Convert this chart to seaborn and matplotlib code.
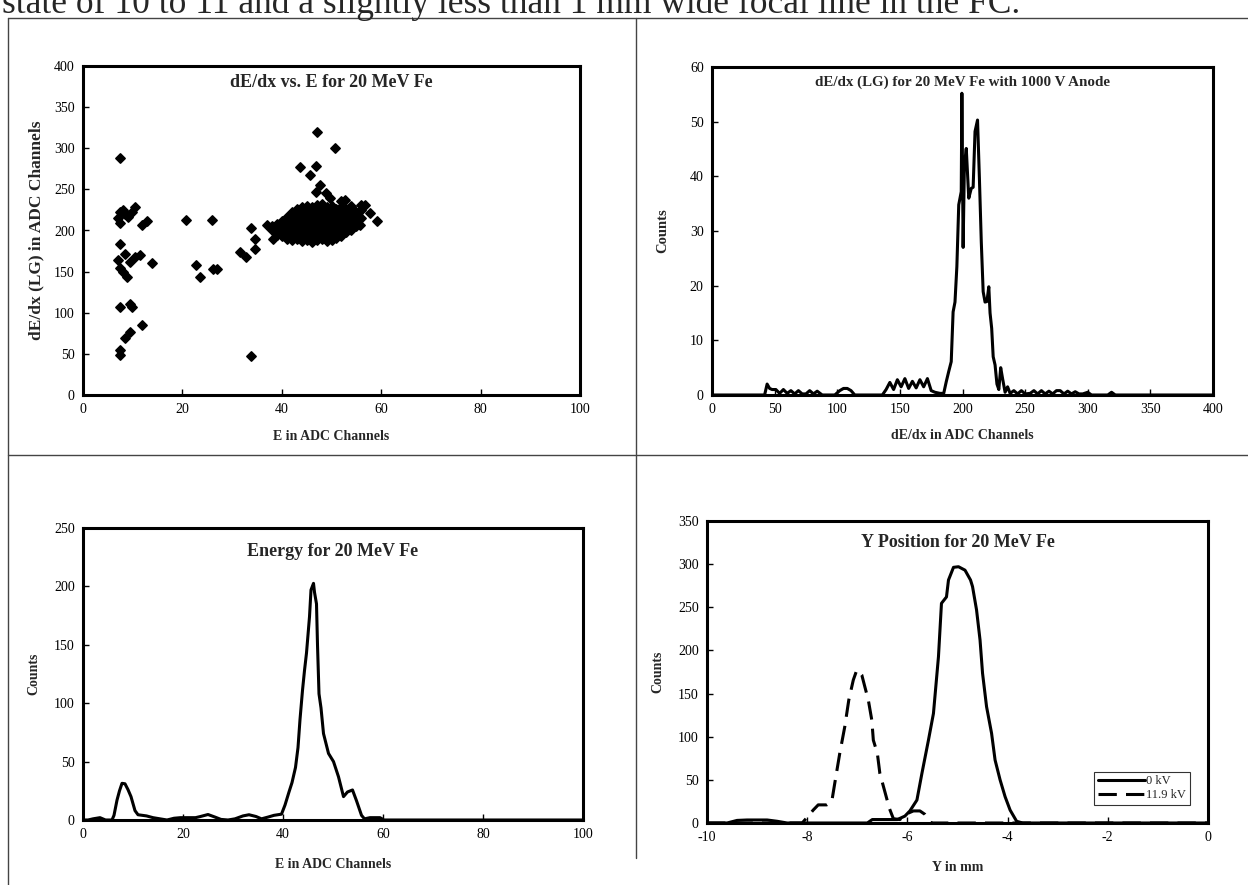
import matplotlib
matplotlib.use("Agg")
import matplotlib.pyplot as plt
from matplotlib.lines import Line2D
import seaborn as sns

# ---- dE/dx vs E scatter (ADC channels) ----
scatter_E = [7.4, 47.0, 50.8, 43.7, 45.7, 46.9, 47.6, 46.9, 48.9, 49.7, 52.7,
             56.7, 57.7, 59.1, 55.7, 54.5, 54.8, 52.6, 52.8,
             37.0, 38.6, 38.3, 39.6, 33.9, 34.6, 34.7, 31.6, 32.7, 33.9,
             20.7, 25.9, 22.7, 23.5, 26.1, 26.9,
             7.4, 8.1, 10.5, 7.4, 9.1, 11.8, 12.8, 7.0, 8.4, 9.8,
             7.4, 8.5, 7.1, 9.5, 11.5, 10.5, 7.4, 8.8, 13.8, 8.1,
             7.4, 9.5, 9.8, 11.8, 9.5, 8.5, 7.4, 7.4]
scatter_dEdx = [288, 320, 300, 277, 267, 278, 255, 247, 245, 239, 237,
                231, 221, 211, 207, 225, 212, 205, 200,
                207, 200, 190, 197, 203, 190, 177, 174, 168, 47,
                213, 213, 158, 144, 153, 153,
                223, 225, 229, 209, 217, 207, 211, 215, 220, 222,
                184, 172, 164, 162, 170, 168, 154, 144, 160, 150,
                107, 111, 107, 85, 77, 69, 55, 49]

# dense main group around E = 38-57
cluster_E = [38, 38, 39, 39, 39, 40, 40, 40, 40,
             41, 41, 41, 41, 41, 42, 42, 42, 42, 42, 42,
             43, 43, 43, 43, 43, 43, 44, 44, 44, 44, 44, 44, 44,
             45, 45, 45, 45, 45, 45, 45, 46, 46, 46, 46, 46, 46, 46,
             47, 47, 47, 47, 47, 47, 47, 48, 48, 48, 48, 48, 48, 48,
             49, 49, 49, 49, 49, 49, 49, 50, 50, 50, 50, 50, 50, 50,
             51, 51, 51, 51, 51, 51, 52, 52, 52, 52, 52, 52, 52,
             53, 53, 53, 53, 53, 54, 54, 54, 54, 54, 55, 55, 55, 56, 56, 56]
cluster_dEdx = [200, 205, 195, 203, 208, 193, 200, 207, 212,
                190, 197, 204, 210, 216, 188, 195, 202, 208, 215, 222,
                190, 197, 204, 211, 218, 226, 187, 194, 201, 208, 215, 222, 229,
                189, 196, 203, 210, 217, 224, 230, 186, 193, 200, 207, 214, 221, 228,
                188, 195, 202, 209, 216, 223, 231, 190, 197, 204, 211, 218, 225, 232,
                187, 194, 201, 208, 215, 222, 229, 189, 196, 203, 210, 217, 224, 230,
                191, 198, 205, 212, 219, 226, 193, 200, 207, 214, 221, 228, 236,
                198, 205, 212, 219, 226, 200, 207, 214, 222, 230, 205, 212, 220, 215, 225, 231]

# ---- dE/dx (LG) spectrum ----
dedx_channel = [0, 42, 44, 46, 48, 51, 54, 57, 60, 63, 66, 69, 72, 75, 78, 81, 84, 88,
                98, 102, 105, 108, 111, 114, 122, 136, 139, 142, 145, 148, 151, 154,
                157, 160, 163, 166, 169, 172, 175, 178, 182, 185, 187, 189, 191, 192.5,
                194, 195.5, 197, 199, 199.5, 200.5, 201.5, 203, 205, 207, 208.5, 210,
                212, 213.5, 215, 216.5, 218, 219.5, 221, 222, 223.3, 224.5, 226, 227.5,
                229, 230.5, 232, 234, 236, 238, 241, 244, 247, 250, 254, 257, 260, 263,
                266, 269, 272, 275, 278, 281, 284, 287, 290, 293, 296, 300, 303, 312,
                316, 319, 322, 400]
dedx_counts = [0, 0, 2, 1.2, 1, 1, 0.3, 1, 0.3, 0.8, 0.2, 0.8, 0.2, 0.2, 0.8, 0.2, 0.7, 0,
               0, 0.8, 1.2, 1.2, 0.8, 0, 0, 0, 1, 2.3, 1, 2.8, 1.5, 3,
               1.2, 2.5, 1.3, 2.8, 1.5, 3, 0.8, 0.5, 0.3, 0.3, 2.4, 4.3, 6.1, 15.2,
               17, 23.5, 34.8, 37.2, 55.2, 27, 42, 45.1, 36, 37.8, 38, 48.2,
               50.3, 39.6, 28, 18.9, 17, 17.1, 19.8, 15, 12.2, 7, 5.5, 2,
               1, 5, 3, 0.5, 1.5, 0.3, 0.8, 0.2, 0.8, 0.2, 0.3, 0.8, 0.2, 0.8,
               0.2, 0.7, 0.2, 0.8, 0.8, 0.2, 0.7, 0.2, 0.6, 0.2, 0.2, 0.5, 0, 0,
               0, 0.5, 0, 0]

# ---- Energy spectrum ----
energy_channel = [0, 1, 2, 3.4, 4.5, 5.8, 6.2, 6.8, 7.3, 7.8, 8.4, 9.0, 9.6, 10.4, 11.0,
                  12.7, 14, 15.4, 16.8, 18.2, 19.5, 21, 22.5, 23.5, 25, 26.4, 27.6, 29,
                  30.4, 32, 33.2, 34.6, 35.7, 37, 38.2, 39.7, 40.4, 41.2, 41.8, 42.5,
                  43.0, 43.4, 43.9, 44.3, 44.7, 45.3, 45.6, 46.1, 46.3, 46.7, 46.9, 47.2,
                  47.6, 48.1, 49.1, 50.1, 51.1, 52.1, 52.9, 53.9, 54.7, 55.7, 56.3, 57.4,
                  59.4, 60.2, 100]
energy_counts = [0, 0, 1, 2, 0, 0, 4, 17, 25, 31.4, 31, 26, 20, 8, 4.5,
                 3.5, 2, 1, 0, 1.5, 2, 2, 2, 3, 4.7, 2.5, 0.5, 0,
                 1, 3.5, 4.5, 3, 1, 2.5, 4, 5, 12.8, 24, 32, 45,
                 62, 86, 111, 128, 143, 174, 197, 202.6, 195, 185, 150, 108,
                 96, 74, 57, 50, 37, 20, 24, 25.7, 16.5, 4, 1, 2,
                 2, 0, 0]

# ---- Y position profiles ----
ypos_0kv = [-10, -9.6, -9.4, -9.2, -8.8, -8.6, -8.4, -6.8, -6.7, -6.2, -6.05, -5.95,
            -5.81, -5.71, -5.58, -5.48, -5.38, -5.32, -5.22, -5.18, -5.08, -4.98, -4.85,
            -4.74, -4.7, -4.62, -4.55, -4.5, -4.42, -4.32, -4.25, -4.15, -4.05, -3.95,
            -3.82, -3.7, 0]
counts_0kv = [0, 0, 3, 3.5, 3.5, 2, 0, 0, 4, 4, 8, 14,
              26.6, 57.6, 96, 127, 192.7, 254.6, 262, 281.6, 296.3, 297, 293,
              281.6, 274, 247, 212, 173.5, 134.8, 104, 73, 50, 30.5, 15,
              2, 0, 0]
ypos_119kv = [-10, -8.1, -7.98, -7.88, -7.78, -7.61, -7.51, -7.45, -7.35, -7.25, -7.17,
              -7.08, -7.01, -6.96, -6.91, -6.85, -6.78, -6.71, -6.68, -6.6, -6.55, -6.45,
              -6.36, -6.28, -6.15, -6.0, -5.88, -5.75, -5.65, -5.52, 0]
counts_119kv = [0, 0, 8, 15, 21, 21, 24.7, 46, 80.8, 111.6, 142.5,
                165.7, 177.3, 175, 171.5, 158, 142.5, 119, 96, 80.8, 57.6, 36.3,
                17, 5, 4, 11, 14, 14, 10, 0, 0]

header = "state of 10 to 11 and a slightly less than 1 mm wide focal line in the FC."

sns.set_theme(style="white")
plt.rcParams["font.family"] = ["Liberation Serif", "DejaVu Serif"]
plt.rcParams["axes.edgecolor"] = "black"

W, H = 1248, 885
fig = plt.figure(figsize=(W / 100, H / 100), dpi=100)
fig.patch.set_facecolor("white")


def px_axes(x0, y0, x1, y1):
    return fig.add_axes([x0 / W, 1 - y1 / H, (x1 - x0) / W, (y1 - y0) / H])


def style(ax, xlim, xstep, ylim, ystep, title, title_size, xlabel, ylabel,
          title_y, ylab_x, xlab_y, ylab_size=10):
    ax.set_xlim(*xlim)
    ax.set_ylim(*ylim)
    xt = []
    v = xlim[0]
    while v <= xlim[1] + 1e-9:
        xt.append(v)
        v += xstep
    yt = []
    v = ylim[0]
    while v <= ylim[1] + 1e-9:
        yt.append(v)
        v += ystep
    ax.set_xticks(xt)
    ax.set_yticks(yt)
    ax.set_xticklabels([f"{t:g}" for t in xt])
    ax.set_yticklabels([f"{t:g}" for t in yt])
    ax.tick_params(direction="in", length=4, width=1, colors="black",
                   labelsize=10, pad=6, bottom=True, left=True)
    for s in ax.spines.values():
        s.set_visible(True)
        s.set_linewidth(2.2)
        s.set_color("black")
    ax.set_facecolor("white")
    ax.grid(False)
    ax.text(0.5, title_y, title, transform=ax.transAxes, ha="center", va="center",
            fontsize=title_size, fontweight="bold")
    ax.set_xlabel(xlabel, fontsize=10, fontweight="bold")
    ax.set_ylabel(ylabel, fontsize=ylab_size, fontweight="bold")
    ax.yaxis.set_label_coords(ylab_x, 0.5)
    ax.xaxis.set_label_coords(0.5, xlab_y)


# top-left: scatter
ax1 = px_axes(83, 66, 580, 395)
sns.scatterplot(x=scatter_E + cluster_E, y=scatter_dEdx + cluster_dEdx, ax=ax1,
                color="black", marker="D", s=22, edgecolor="black", linewidth=1.2,
                legend=False)
style(ax1, (0, 100), 20, (0, 400), 50, "dE/dx vs. E for 20 MeV Fe", 13,
      "E in ADC Channels", "dE/dx (LG) in ADC Channels", 0.95, -0.077, -0.105,
      ylab_size=12.5)

# top-right: dE/dx spectrum
ax2 = px_axes(712, 67, 1213, 395)
sns.lineplot(x=dedx_channel, y=dedx_counts, ax=ax2, color="black", linewidth=2.2,
             estimator=None, sort=False)
style(ax2, (0, 400), 50, (0, 60), 10, "dE/dx (LG) for 20 MeV Fe with 1000 V Anode", 10.8,
      "dE/dx in ADC Channels", "Counts", 0.955, -0.085, -0.105, ylab_size=10.5)

# bottom-left: energy spectrum
ax3 = px_axes(83, 528, 583, 820)
sns.lineplot(x=energy_channel, y=energy_counts, ax=ax3, color="black", linewidth=2.2,
             estimator=None, sort=False)
style(ax3, (0, 100), 20, (0, 250), 50, "Energy for 20 MeV Fe", 13,
      "E in ADC Channels", "Counts", 0.92, -0.085, -0.13)

# bottom-right: Y position profiles
ax4 = px_axes(707, 521, 1208, 823)
sns.lineplot(x=ypos_0kv, y=counts_0kv, ax=ax4, color="black", linewidth=2.2,
             estimator=None, sort=False, label="0 kV")
sns.lineplot(x=ypos_119kv, y=counts_119kv, ax=ax4, color="black", linewidth=2.2,
             estimator=None, sort=False, label="11.9 kV", linestyle=(0, (6, 3)))
style(ax4, (-10, 0), 2, (0, 350), 50, "Y Position for 20 MeV Fe", 13,
      "Y in mm", "Counts", 0.93, -0.085, -0.125)
leg = ax4.legend(loc="lower right", bbox_to_anchor=(0.964, 0.06), fontsize=9,
                 frameon=True, fancybox=False, handlelength=3.8, handletextpad=0.1,
                 borderpad=0.3, labelspacing=0.15, borderaxespad=0)
leg.get_frame().set_edgecolor("black")
leg.get_frame().set_linewidth(0.8)

# page layout: running text and table rules
fig.text(2 / W, 1 - 13 / H, header, fontsize=25.5, va="baseline", ha="left")
rules = [((8, 18), (1248, 18)), ((8, 18), (8, 885)), ((636, 18), (636, 858)),
         ((8, 455), (1248, 455))]
for (xa, ya), (xb, yb) in rules:
    fig.add_artist(Line2D([xa / W, xb / W], [1 - ya / H, 1 - yb / H],
                          transform=fig.transFigure, color="#444444", linewidth=1))

fig.savefig("out.png", dpi=100, facecolor="white")
